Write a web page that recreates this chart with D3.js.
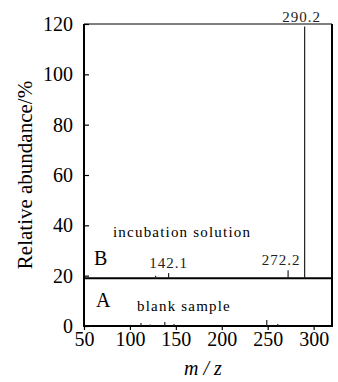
<!DOCTYPE html>
<html>
<head>
<meta charset="utf-8">
<script src="https://cdn.jsdelivr.net/npm/d3@7"></script>
<style>
  body { margin: 0; background: #fff; }
</style>
</head>
<body>
<div id="chart"></div>
<script>
// tick values
const xTicks = [50, 100, 150, 200, 250, 300];
const yTicks = [0, 20, 40, 60, 80, 100, 120];

// spectrum B (incubation solution), drawn above the offset line
const bOffset = 19;
const bMz = [128.0, 142.1, 272.2, 290.2];
const bAbundance = [1.0, 2.0, 3.2, 100];
const bLabels = ["", "142.1", "272.2", "290.2"];

// spectrum A (blank sample), drawn on the baseline
const aMz = [112, 122, 138, 148, 249, 261];
const aAbundance = [1.2, 0.6, 1.6, 0.8, 2.4, 0.8];

const FONT = '"Liberation Serif"';
const width = 338, height = 382;
const margin = {top: 24, right: 6, bottom: 56, left: 84};

const svg = d3.select("#chart").append("svg")
  .attr("width", width)
  .attr("height", height);

const x = d3.scaleLinear().domain([50, 320]).range([margin.left, width - margin.right]);
const y = d3.scaleLinear().domain([0, 120]).range([height - margin.bottom, margin.top]);

// y axis, ticks pointing inwards
const yAxis = svg.append("g")
  .attr("transform", `translate(${margin.left},0)`)
  .call(d3.axisLeft(y).tickValues(yTicks).tickSizeInner(-5).tickSizeOuter(0).tickPadding(11));
yAxis.select(".domain").remove();
yAxis.selectAll("line").attr("stroke", "#000").attr("stroke-width", 1.2);
yAxis.selectAll("text").style("font-family", FONT).style("font-size", "20px").attr("fill", "#000");

// x axis
const xAxis = svg.append("g")
  .attr("transform", `translate(0,${y(0)})`)
  .call(d3.axisBottom(x).tickValues(xTicks).tickSizeInner(4).tickSizeOuter(0).tickPadding(2));
xAxis.select(".domain").remove();
xAxis.selectAll("line").attr("stroke", "#000").attr("stroke-width", 1.2);
xAxis.selectAll("text").style("font-family", FONT).style("font-size", "20px").attr("fill", "#000");

// frame
const x0 = x(50), x1 = x(320), yTop = y(120), yBot = y(0);
svg.append("line").attr("x1", x0).attr("x2", x1).attr("y1", yTop).attr("y2", yTop)
  .attr("stroke", "#000").attr("stroke-width", 1);
svg.append("line").attr("x1", x0).attr("x2", x0).attr("y1", yTop).attr("y2", yBot + 1)
  .attr("stroke", "#000").attr("stroke-width", 2);
svg.append("line").attr("x1", x1).attr("x2", x1).attr("y1", yTop).attr("y2", yBot + 1)
  .attr("stroke", "#000").attr("stroke-width", 2);
svg.append("line").attr("x1", x0 - 1).attr("x2", x1 + 1).attr("y1", yBot).attr("y2", yBot)
  .attr("stroke", "#000").attr("stroke-width", 2);
// divider between A and B
svg.append("line").attr("x1", x0).attr("x2", x1).attr("y1", y(bOffset)).attr("y2", y(bOffset))
  .attr("stroke", "#000").attr("stroke-width", 2);

// peaks B
svg.selectAll("line.peakB")
  .data(bMz)
  .enter()
  .append("line")
  .attr("class", "peakB")
  .attr("x1", d => x(d)).attr("x2", d => x(d))
  .attr("y1", y(bOffset))
  .attr("y2", (d, i) => y(Math.min(bOffset + bAbundance[i], 120)))
  .attr("stroke", "#222")
  .attr("stroke-width", 1.2);

const labelShift = [0, 0, -7, -3];
svg.selectAll("text.peakB")
  .data(bMz)
  .enter()
  .append("text")
  .attr("class", "peakB")
  .attr("x", (d, i) => x(d) + labelShift[i])
  .attr("y", (d, i) => y(Math.min(bOffset + bAbundance[i], 120)) - 5)
  .attr("text-anchor", "middle")
  .style("font-family", FONT)
  .style("font-size", "15px")
  .style("letter-spacing", "1px")
  .attr("fill", "#222")
  .text((d, i) => bLabels[i]);

// peaks A
svg.selectAll("line.peakA")
  .data(aMz)
  .enter()
  .append("line")
  .attr("class", "peakA")
  .attr("x1", d => x(d)).attr("x2", d => x(d))
  .attr("y1", y(0))
  .attr("y2", (d, i) => y(aAbundance[i]))
  .attr("stroke", "#222")
  .attr("stroke-width", 1.2);

// panel annotations
function label(xp, yp, size, txt, spacing) {
  return svg.append("text").attr("x", xp).attr("y", yp)
    .style("font-family", FONT).style("font-size", size + "px")
    .style("letter-spacing", (spacing || 0) + "px")
    .text(txt);
}
label(94, 265, 20, "B");
label(113, 237, 15, "incubation solution", 1.2);
label(96, 307, 20, "A");
label(137, 311, 15, "blank sample", 1.2);

// axis titles
svg.append("text")
  .attr("transform", "translate(32,175) rotate(-90)")
  .attr("text-anchor", "middle")
  .style("font-family", FONT)
  .style("font-size", "21px")
  .text("Relative abundance/%");
svg.append("text")
  .attr("x", 203).attr("y", 375)
  .attr("text-anchor", "middle")
  .style("font-family", FONT)
  .style("font-size", "20px")
  .style("font-style", "italic")
  .text("m / z");
</script>
</body>
</html>
